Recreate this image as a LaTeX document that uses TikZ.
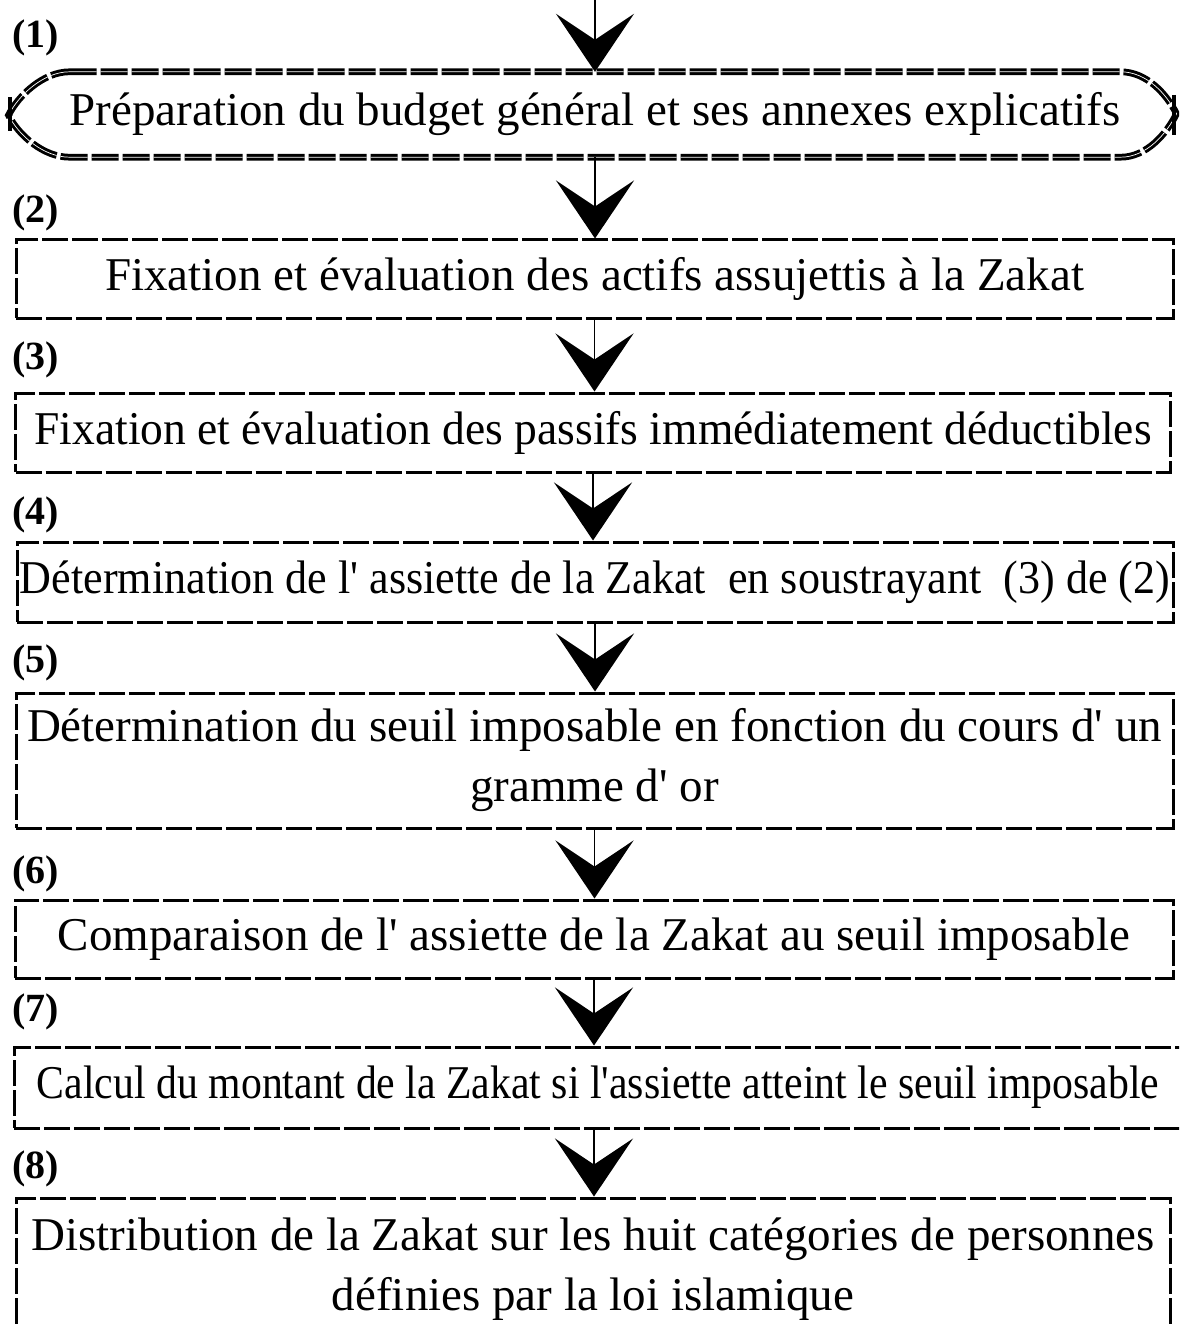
\documentclass[tikz,border=0pt]{standalone}
\usepackage{fontspec}
\usepackage{graphicx}
\setmainfont{Liberation Serif}
\usetikzlibrary{arrows.meta}
\newcommand{\aq}{\textquotesingle}
\newcommand{\fitw}[2]{\resizebox{#1}{\height}{#2}}
\begin{document}
\begin{tikzpicture}[x=1pt,y=-1pt,
  box/.style={draw, line width=3pt, dash pattern=on 26pt off 4pt, inner sep=0pt, align=center, font=\fontsize{47}{60}\selectfont},
  lbl/.style={anchor=west, inner sep=0pt, font=\fontsize{40}{40}\selectfont\bfseries},
  flow/.style={line width=1.5pt, -{Stealth[length=58pt,width=78pt,inset=26pt]}},
  chev/.style={line width=3pt, double=white, double distance=0.7pt, dash pattern=on 27pt off 4pt},
  bar/.style={line width=3.5pt}]
\useasboundingbox (0,0) rectangle (1179,1324);
\clip (0,0) rectangle (1179,1324);
\fill[white] (0,0) rectangle (1179,1324);

\coordinate (top) at (595,0);

% step 1 (chevron-ended bar)
\node[inner sep=0pt, minimum width=1042pt, minimum height=85pt, font=\fontsize{47}{60}\selectfont] (b1) at (595,114.5) {Préparation du budget général et ses annexes explicatifs};
\draw[chev] (b1.north west) -- (b1.north east)
  .. controls +(26,0) and +(-10,-20) .. ++(56,42)
  .. controls +(-10,20) and +(26,0) .. (b1.south east)
  -- (b1.south west)
  .. controls +(-26,0) and +(10,20) .. ++(-61,-42)
  .. controls +(10,-20) and +(-26,0) .. (b1.north west);
\draw[bar] (10,97) -- (10,131);
\draw[bar] (1174,95) -- (1174,135);

% boxes
\node[box, minimum width=1157pt, minimum height=78pt] (b2) at (594.5,279) {Fixation et évaluation des actifs assujettis à la Zakat};
\node[box, minimum width=1155pt, minimum height=79pt] (b3) at (593,432.5) {\fitw{1117pt}{Fixation et évaluation des passifs immédiatement déductibles}};
\node[box, minimum width=1156pt, minimum height=80pt] (b4) at (595,582) {\fitw{1150pt}{Détermination de l\aq{} assiette de la Zakat~ en soustrayant~ (3) de (2)}};
\node[box, minimum width=1157pt, minimum height=135pt] (b5) at (594.5,760.5) {Détermination du seuil imposable en fonction du cours d\aq{} un\\gramme d\aq{} or};
\node[box, minimum width=1158pt, minimum height=78pt] (b6) at (594,939) {Comparaison de l\aq{} assiette de la Zakat au seuil imposable};
\node[box, minimum width=1168pt, minimum height=81pt] (b7) at (598,1087.5) {\fitw{1122pt}{Calcul du montant de la Zakat si l\aq{}assiette atteint le seuil imposable}};
\node[box, minimum width=1154pt, minimum height=142pt] (b8) at (593,1269) {Distribution de la Zakat sur les huit catégories de personnes\\définies par la loi islamique};

% labels
\node[lbl] (l1) at (12,38) {(1)};
\node[lbl] (l2) at (12,213) {(2)};
\node[lbl] (l3) at (12,360) {(3)};
\node[lbl] (l4) at (12,515) {(4)};
\node[lbl] (l5) at (12,663) {(5)};
\node[lbl] (l6) at (12,874) {(6)};
\node[lbl] (l7) at (12,1012) {(7)};
\node[lbl] (l8) at (12,1169) {(8)};

% connectors
\draw[flow] (top) -- (top |- b1.north);
\draw[flow] (b1.south) -- (b1.south |- b2.north);
\draw[flow] (b2.south) -- (b2.south |- b3.north);
\draw[flow] (b3.south) -- (b3.south |- b4.north);
\draw[flow] (b4.south) -- (b4.south |- b5.north);
\draw[flow] (b5.south) -- (b5.south |- b6.north);
\draw[flow] (b6.south) -- (b6.south |- b7.north);
\draw[flow] (b6.south |- b7.south) -- (b6.south |- b8.north);
\end{tikzpicture}
\end{document}
